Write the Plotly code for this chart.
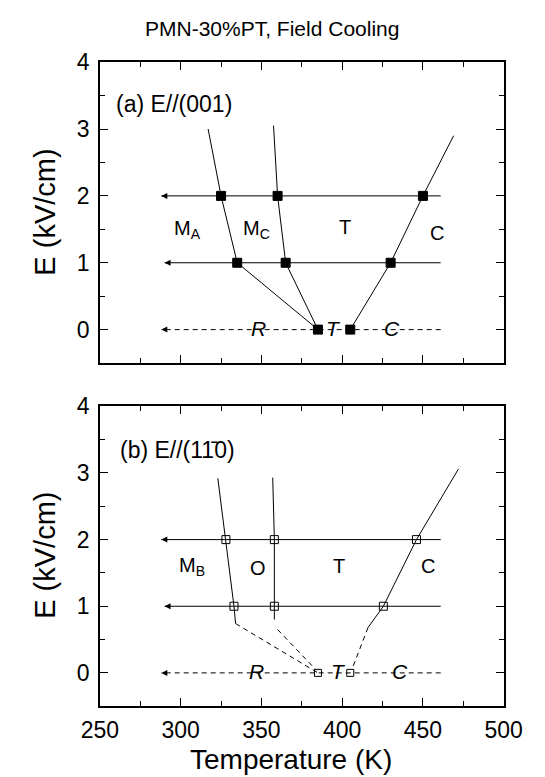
import plotly.graph_objects as go

# ---- data -------------------------------------------------------------
# (a) E // (001): transition temperatures (K) at each applied field (kV/cm)
a_E2_T = [325, 360, 450]
a_E1_T = [335, 365, 430]
a_E0_T = [385, 405]

# phase boundaries of panel (a): (T, E) pairs
a_bound_MA_MC_T = [317, 325, 335, 385]
a_bound_MA_MC_E = [3.0, 2, 1, 0]
a_bound_MC_T_T = [357.5, 360, 365, 385]
a_bound_MC_T_E = [3.05, 2, 1, 0]
a_bound_T_C_T = [469, 450, 430, 405]
a_bound_T_C_E = [2.9, 2, 1, 0]

# (b) E // (1-10)
b_E2_T = [328, 358, 446]
b_E1_T = [333, 358, 425.5]
b_E0_T = [385, 405]

b_bound_MB_O_T = [323, 328, 333, 334]
b_bound_MB_O_E = [2.92, 2, 1, 0.74]
b_bound_MB_O_dash_T = [334, 385]
b_bound_MB_O_dash_E = [0.74, 0]
b_bound_O_T_T = [357, 358, 358, 358]
b_bound_O_T_E = [2.93, 2, 1, 0.8]
b_bound_O_T_dash_T = [360, 384]
b_bound_O_T_dash_E = [0.65, 0.04]
b_bound_T_C_T = [472, 446, 425.5, 416]
b_bound_T_C_E = [3.06, 2, 1, 0.68]
b_bound_T_C_dash_T = [416, 406]
b_bound_T_C_dash_E = [0.68, 0.05]

# field-cooling sweeps (start -> end temperature) at each field level
sweep_E = [2, 1, 0]
sweep_start_T = [461, 461, 461]
sweep_end_T = [288, 290, 288]

x_ticks = [250, 300, 350, 400, 450, 500]
y_ticks = [0, 1, 2, 3, 4]

FONT = "Arial, Liberation Sans, sans-serif"
BLACK = "#000000"
DASH = "5px,4px"

fig = go.Figure()


def line(xs, ys, xa, ya, dash="solid"):
    fig.add_trace(go.Scatter(
        x=xs, y=ys, mode="lines", xaxis=xa, yaxis=ya,
        line=dict(color=BLACK, width=1, dash=dash),
        hoverinfo="skip", showlegend=False))


def points(xs, ys, xa, ya, symbol, size, lw=1):
    fig.add_trace(go.Scatter(
        x=xs, y=ys, mode="markers", xaxis=xa, yaxis=ya,
        marker=dict(symbol=symbol, size=size, color=BLACK,
                    line=dict(color=BLACK, width=lw)),
        hoverinfo="skip", showlegend=False))


for xa, ya in (("x", "y"), ("x2", "y2")):
    for E, t0, t1 in zip(sweep_E, sweep_start_T, sweep_end_T):
        line([t0, t1], [E, E], xa, ya, "solid" if E > 0 else DASH)
    # arrowheads at the cold end of every sweep
    points(sweep_end_T, sweep_E, xa, ya, "arrow-left", 6, 0)

# panel (a)
line(a_bound_MA_MC_T, a_bound_MA_MC_E, "x", "y")
line(a_bound_MC_T_T, a_bound_MC_T_E, "x", "y")
line(a_bound_T_C_T, a_bound_T_C_E, "x", "y")
points(a_E2_T, [2] * len(a_E2_T), "x", "y", "square", 9)
points(a_E1_T, [1] * len(a_E1_T), "x", "y", "square", 9)
points(a_E0_T, [0] * len(a_E0_T), "x", "y", "square", 9)

# panel (b)
line(b_bound_MB_O_T, b_bound_MB_O_E, "x2", "y2")
line(b_bound_MB_O_dash_T, b_bound_MB_O_dash_E, "x2", "y2", DASH)
line(b_bound_O_T_T, b_bound_O_T_E, "x2", "y2")
line(b_bound_O_T_dash_T, b_bound_O_T_dash_E, "x2", "y2", DASH)
line(b_bound_T_C_T, b_bound_T_C_E, "x2", "y2")
line(b_bound_T_C_dash_T, b_bound_T_C_dash_E, "x2", "y2", DASH)
points(b_E2_T, [2] * len(b_E2_T), "x2", "y2", "square-open", 8)
points(b_E1_T, [1] * len(b_E1_T), "x2", "y2", "square-open", 8)
points(b_E0_T, [0] * len(b_E0_T), "x2", "y2", "square-open", 7)

annotations = []


def label(text, x, y, xr, yr, size=20, xanchor="center", style="normal"):
    annotations.append(dict(
        text=text, x=x, y=y, xref=xr, yref=yr, showarrow=False,
        xanchor=xanchor, yanchor="middle",
        font=dict(family=FONT, size=size, color=BLACK, style=style)))


label("(a) E//(001)", 259, 3.38, "x", "y", 23, "left")
label("M<sub>A</sub>", 304, 1.5, "x", "y")
label("M<sub>C</sub>", 347, 1.5, "x", "y")
label("T", 402, 1.53, "x", "y")
label("C", 459, 1.45, "x", "y")
label("R", 348, 0.02, "x", "y", 21, style="italic")
label("T", 394.5, 0.02, "x", "y", 21, style="italic")
label("C", 431, 0.02, "x", "y", 21, style="italic")

label("(b) E//(11\u03040)", 261, 3.34, "x2", "y2", 23, "left")
label("M<sub>B</sub>", 307, 1.6, "x2", "y2")
label("O", 348, 1.57, "x2", "y2")
label("T", 398, 1.6, "x2", "y2")
label("C", 453, 1.6, "x2", "y2")
label("R", 347, 0.02, "x2", "y2", 21, style="italic")
label("T", 397.5, 0.02, "x2", "y2", 21, style="italic")
label("C", 436, 0.02, "x2", "y2", 21, style="italic")

# figure title and axis titles
W, H = 545, 777
annotations.append(dict(text="PMN-30%PT, Field Cooling", x=272 / W, y=1 - 16 / H,
                        xref="paper", yref="paper", showarrow=False,
                        xanchor="center", yanchor="middle",
                        font=dict(family=FONT, size=21, color=BLACK)))
annotations.append(dict(text="Temperature (K)", x=292 / W, y=1 - 759 / H,
                        xref="paper", yref="paper", showarrow=False,
                        xanchor="center", yanchor="middle",
                        font=dict(family=FONT, size=28, color=BLACK)))
for yc in (203, 552):
    annotations.append(dict(text="E (kV/cm)", x=28 / W, y=1 - yc / H,
                            xref="paper", yref="paper", showarrow=False,
                            textangle=-90, xanchor="center", yanchor="middle",
                            font=dict(family=FONT, size=29, color=BLACK)))

x_dom = [87 / W, 521 / W]
top_dom = [1 - 356 / H, 1 - 50 / H]
bot_dom = [1 - 705 / H, 1 - 400 / H]

axis_common = dict(
    showline=True, linecolor=BLACK, linewidth=1.6, mirror="ticks",
    ticks="inside", ticklen=8, tickwidth=1.3, tickcolor=BLACK,
    showgrid=False, zeroline=False,
    tickfont=dict(family=FONT, size=23, color=BLACK),
)
minor_x = dict(ticks="inside", ticklen=5, tickwidth=1.3, tickcolor=BLACK, dtick=25, showgrid=False)
minor_y = dict(ticks="inside", ticklen=5, tickwidth=1.3, tickcolor=BLACK, dtick=0.5, showgrid=False)

fig.update_layout(
    width=W, height=H,
    margin=dict(l=0, r=0, t=0, b=0),
    paper_bgcolor="white", plot_bgcolor="white",
    showlegend=False,
    annotations=annotations,
    xaxis=dict(domain=x_dom, range=[250, 500], anchor="y", tickvals=x_ticks,
               showticklabels=False, minor=minor_x, **axis_common),
    yaxis=dict(domain=top_dom, range=[-0.5, 4], anchor="x", tickvals=y_ticks,
               minor=minor_y, ticklabelstandoff=4, **axis_common),
    xaxis2=dict(domain=x_dom, range=[250, 500], anchor="y2", tickvals=x_ticks,
                minor=minor_x, ticklabelstandoff=2, **axis_common),
    yaxis2=dict(domain=bot_dom, range=[-0.5, 4], anchor="x2", tickvals=y_ticks,
                minor=minor_y, ticklabelstandoff=4, **axis_common),
)

fig.write_html("out.html")
